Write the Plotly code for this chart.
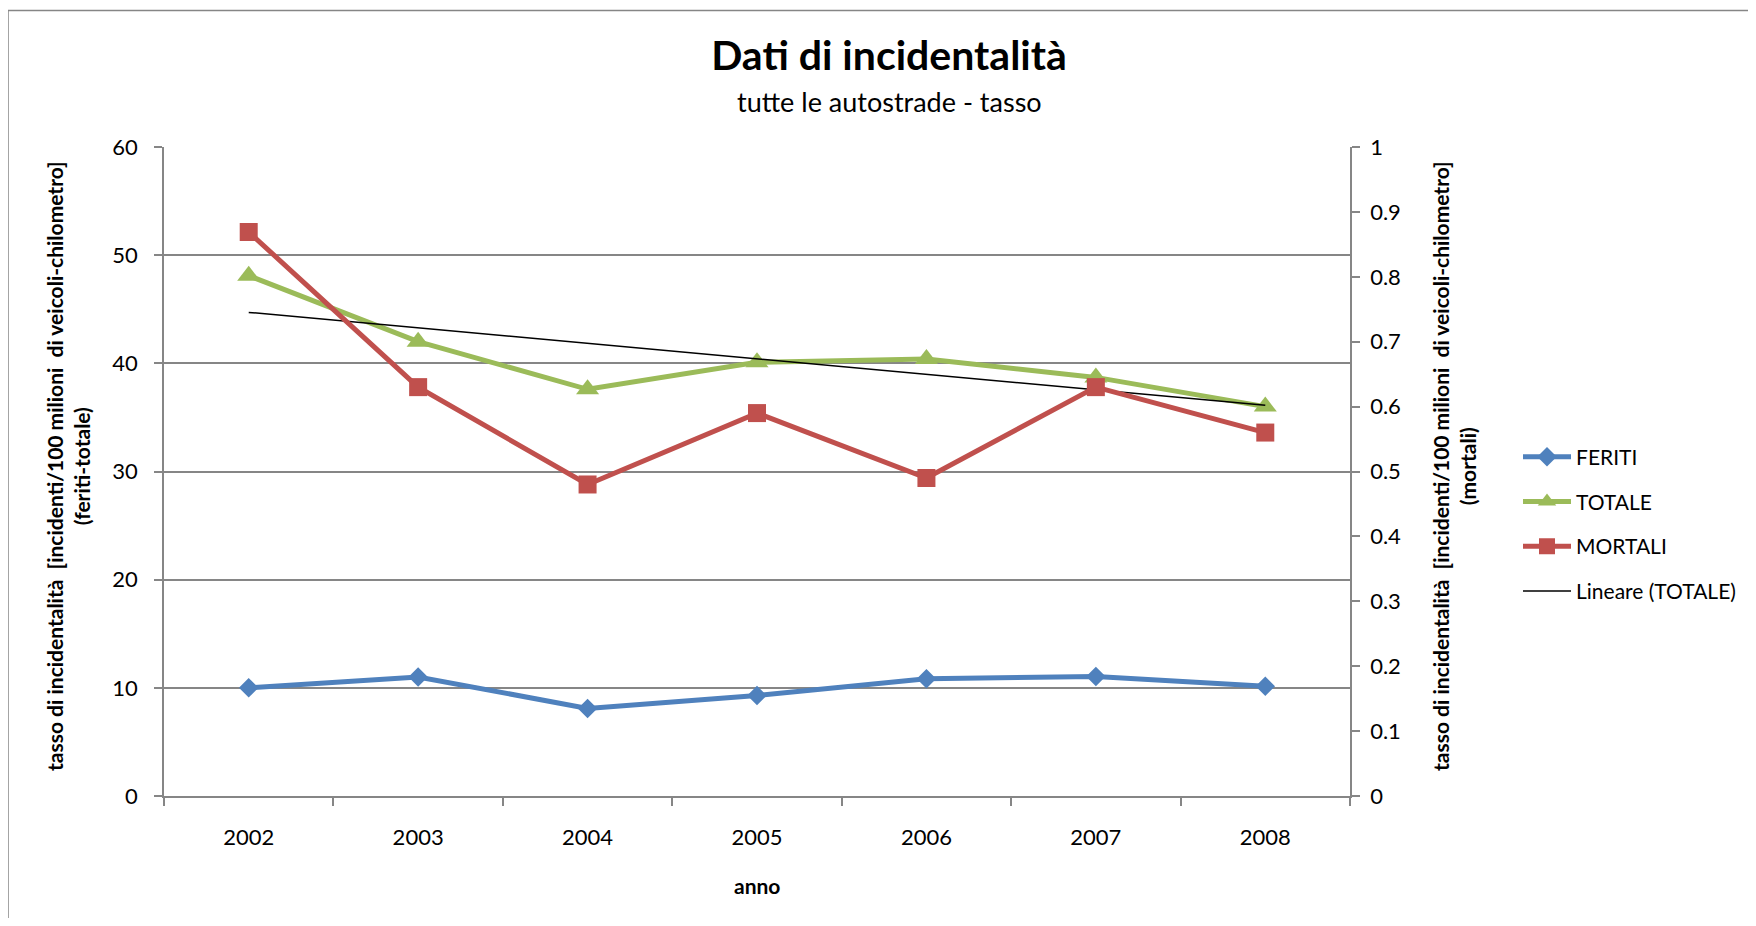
import numpy as np
import plotly.graph_objects as go

years = ["2002", "2003", "2004", "2005", "2006", "2007", "2008"]
feriti = [10.0, 11.0, 8.1, 9.3, 10.85, 11.05, 10.15]
totale = [48.1, 42.0, 37.6, 40.1, 40.4, 38.7, 36.0]
mortali = [0.869, 0.630, 0.480, 0.590, 0.490, 0.630, 0.560]

title = "Dati di incidentalità"
subtitle = "tutte le autostrade - tasso"
ytitle_left = "tasso di incidentalità  [incidenti/100 milioni  di veicoli-chilometro]<br>(feriti-totale)"
ytitle_right = "tasso di incidentalità  [incidenti/100 milioni  di veicoli-chilometro]<br>(mortali)"
xtitle = "anno"

# linear trendline of TOTALE (Excel "Lineare")
xi = np.arange(1, len(totale) + 1)
slope, intercept = np.polyfit(xi, totale, 1)
trend = list(slope * xi + intercept)

FONT = "Lato, Open Sans, sans-serif"
GRID = "#868686"
OFF = 8  # page body margin
W, H = 1756 - 2 * OFF, 926 - 2 * OFF
L, T = 164 - OFF, 147 - OFF
PW, PH = 1186, 649
R = W - L - PW
B = H - T - PH

def px_x(px):  # page pixel -> paper
    return (px - OFF - L) / PW

def px_y(py):
    return (T + PH - (py - OFF)) / PH

fig = go.Figure()
fig.add_trace(go.Scatter(x=years, y=feriti, name="FERITI", mode="lines+markers",
                         line=dict(color="#4F81BD", width=5),
                         marker=dict(symbol="diamond", size=15, color="#4F81BD"),
                         legendgroup="a"))
fig.add_trace(go.Scatter(x=years, y=totale, name="TOTALE", mode="lines+markers",
                         line=dict(color="#9BBB59", width=5),
                         marker=dict(symbol="triangle-up", size=20, color="#9BBB59"),
                         legendgroup="b"))
fig.add_trace(go.Scatter(x=years, y=mortali, name="MORTALI", mode="lines+markers",
                         line=dict(color="#C0504D", width=5),
                         marker=dict(symbol="square", size=18, color="#C0504D"),
                         yaxis="y2", legendgroup="c"))
fig.add_trace(go.Scatter(x=years, y=trend, name="Lineare (TOTALE)", mode="lines",
                         line=dict(color="black", width=1.5), legendgroup="d"))

fig.update_layout(
    width=W, height=H,
    margin=dict(l=L, r=R, t=T, b=B, autoexpand=False),
    paper_bgcolor="white", plot_bgcolor="white",
    font=dict(family=FONT, size=22, color="black"),
    title=dict(text=f"<b>{title}</b>", x=(889 - OFF) / W, xref="container", xanchor="center",
               y=1 - (56 - OFF) / H, yref="container", yanchor="middle",
               font=dict(size=41, family=FONT, color="black")),
    xaxis=dict(type="category", range=[-0.5, 6.5], showgrid=False, zeroline=False,
               showline=True, linecolor=GRID, linewidth=1.5,
               ticks="outside", tickson="boundaries", ticklen=8, tickcolor=GRID, tickwidth=1.5,
               tickfont=dict(size=22), ticklabelstandoff=21),
    yaxis=dict(range=[0, 60], dtick=10, showgrid=True, gridcolor=GRID, gridwidth=1.5,
               zeroline=False, showline=True, linecolor=GRID, linewidth=1.5,
               ticks="outside", ticklen=8, tickcolor=GRID, tickwidth=1.5,
               tickfont=dict(size=22), ticklabelstandoff=12),
    yaxis2=dict(range=[0, 1], dtick=0.1, overlaying="y", side="right", showgrid=False,
                zeroline=False, showline=True, linecolor=GRID, linewidth=1.5,
                ticks="outside", ticklen=8, tickcolor=GRID, tickwidth=1.5,
                tickfont=dict(size=22), ticklabelstandoff=6),
    showlegend=True,
    legend=dict(x=px_x(1518), xanchor="left", y=px_y(524), yanchor="middle",
                font=dict(size=21, family=FONT), tracegroupgap=14.5,
                bgcolor="rgba(0,0,0,0)", itemwidth=48),
)

fig.add_annotation(text=subtitle, xref="paper", yref="paper", x=px_x(889), y=px_y(102),
                   xanchor="center", yanchor="middle", showarrow=False,
                   font=dict(size=27, family=FONT))
fig.add_annotation(text=f"<b>{xtitle}</b>", xref="paper", yref="paper", x=px_x(757), y=px_y(885),
                   xanchor="center", yanchor="middle", showarrow=False,
                   font=dict(size=21, family=FONT))
fig.add_annotation(text=f"<b>{ytitle_left}</b>", xref="paper", yref="paper", x=px_x(68), y=px_y(466),
                   xanchor="center", yanchor="middle", showarrow=False, textangle=-90,
                   font=dict(size=21, family=FONT))
fig.add_annotation(text=f"<b>{ytitle_right}</b>", xref="paper", yref="paper", x=px_x(1454), y=px_y(466),
                   xanchor="center", yanchor="middle", showarrow=False, textangle=-90,
                   font=dict(size=21, family=FONT))

fig.add_shape(type="rect", xref="paper", yref="paper",
              x0=px_x(8), x1=px_x(1800), y0=px_y(980), y1=px_y(10.5),
              line=dict(color=GRID, width=1.5), fillcolor="rgba(0,0,0,0)", layer="below")

fig.write_html("out.html")
